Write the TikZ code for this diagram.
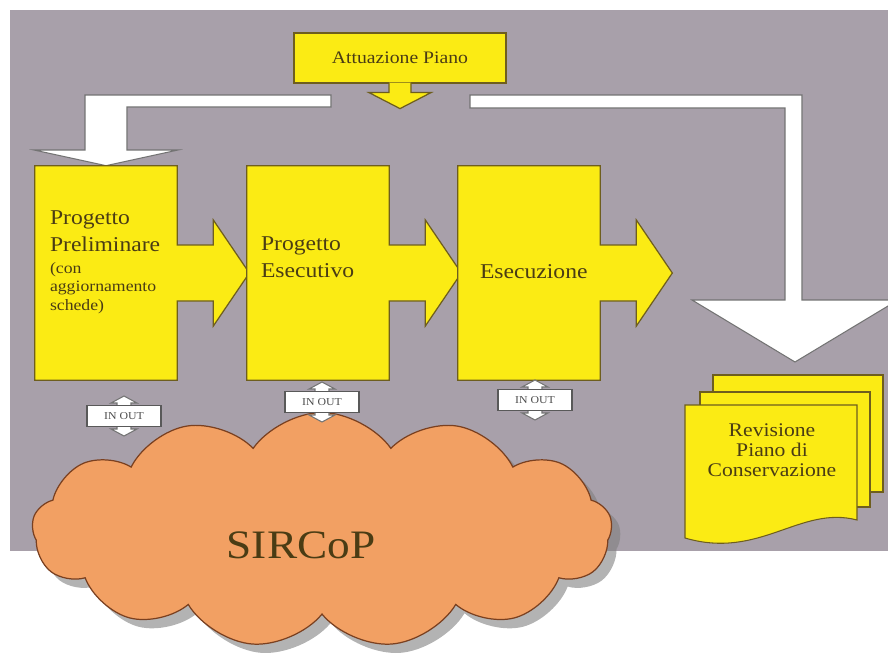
\documentclass[tikz,border=0pt]{standalone}
\usepackage{fontspec}
\setmainfont[FakeStretch=1.12]{Liberation Serif}
\usetikzlibrary{shapes.symbols,shadows,calc,positioning}
\definecolor{bggray}{HTML}{A8A0AA}
\definecolor{boxyellow}{HTML}{FBEB14}
\definecolor{boxline}{HTML}{6E5E1E}
\definecolor{inkbrown}{HTML}{4A3C14}
\definecolor{cloudorange}{HTML}{F2A063}
\definecolor{cloudline}{HTML}{7A4020}

\begin{document}
\begin{tikzpicture}[
                x=0.02cm, y=-0.02cm,
                stage/.style={fill=boxyellow, minimum width=2.84cm, minimum height=4.28cm, inner sep=0pt},
                outline/.style={fill=boxyellow, draw=boxline, line width=0.7pt},
                stagetext/.style={inner sep=0pt, align=left, text=inkbrown, font=\fontsize{12}{15.3}\selectfont},
                smalltext/.style={inner sep=0pt, align=left, text=inkbrown, font=\fontsize{9}{10.8}\selectfont},
                plan/.style={outline, minimum width=4.24cm, minimum height=1cm, text=inkbrown, font=\fontsize{10}{12}\selectfont},
                bigarrow/.style={fill=white, draw=black!55, line width=0.6pt},
                inout/.style={fill=white, draw=black!65, line width=0.6pt, minimum width=1.48cm, minimum height=0.42cm, inner sep=0pt, text=black!70, font=\fontsize{6}{6}\selectfont},
                sheet/.style={fill=boxyellow, draw=boxline, line width=0.6pt},
                database/.style={cloud, cloud puffs=13, cloud puff arc=110, cloud ignores aspect, fill=cloudorange, draw=cloudline, line width=0.7pt, minimum width=11.6cm, minimum height=4.7cm, drop shadow={shadow xshift=5pt, shadow yshift=-5pt, fill=black!50, opacity=0.6}}
                ]
                \useasboundingbox (0,0) rectangle (888,663);
                \fill[bggray] (10,10) rectangle (900,551);
                % plan and the two white flows
                \node[plan] (att) at (400,58) {Attuazione Piano};
                \node[stage] (b1) at (106,273) {};
                \node[stage] (b2) at (318,273) {};
                \node[stage] (b3) at (529,273) {};
                \coordinate (revtip) at (795,362);
                \draw[bigarrow] (331,95) -- (85,95) -- (85,150) -- (34,150) -- (b1.north) -- (178,150) -- (127,150) -- (127,107) -- (331,107) -- cycle;
                \draw[bigarrow] (470,95) -- (802,95) -- (802,300) -- (898,300) -- (revtip) -- (692,300) -- (785,300) -- (785,108) -- (470,108) -- cycle;
                \filldraw[outline] ($(att.south)+(-11,-1)$) -- ++(0,10) -- ++(-20,0) -- ++(31,16) -- ++(31,-16) -- ++(-20,0) -- ++(0,-10);
                % stages with their arrows
                \foreach \s in {b1,b2,b3}
                    \filldraw[outline] (\s.north west) -- (\s.north east) -- ($(\s.east)+(0,-28)$) -- ++(36,0) -- ++(0,-25) -- ++(36,53) -- ++(-36,53) -- ++(0,-25) -- ++(-36,0) -- (\s.south east) -- (\s.south west) -- cycle;
                \node[stagetext, anchor=north west] (t1) at ([shift={(15,45)}]b1.north west) {Progetto\\Preliminare};
                \node[smalltext, anchor=north west] (t1s) at ([shift={(15,96)}]b1.north west) {(con\\aggiornamento\\schede)};
                \node[stagetext, anchor=north west] (t2) at ([shift={(14,71)}]b2.north west) {Progetto\\Esecutivo};
                \node[stagetext, anchor=base west] (t3) at ([shift={(22,5)}]b3.west) {Esecuzione};
                % archive
                \node[database] (db) at (322,530) {};
                \node[text=inkbrown, font=\fontsize{23}{23}\selectfont] (dbname) at (301,545) {SIRCoP};
                \coordinate (c1) at (124,416);
                \coordinate (c2) at (322,402);
                \coordinate (c3) at (535,400);
                \foreach \c in {c1,c2,c3}
                    \draw[bigarrow] ($(\c)+(-7,-13)$) -- ++(-6,0) -- ++(13,-7) -- ++(13,7) -- ++(-6,0) -- ++(0,26) -- ++(6,0) -- ++(-13,7) -- ++(-13,-7) -- ++(6,0) -- cycle;
                \node[inout] (io1) at (c1) {IN OUT};
                \node[inout] (io2) at (c2) {IN OUT};
                \node[inout] (io3) at (c3) {IN OUT};
                % revision sheets
                \filldraw[sheet] (713,375) rectangle (883,492);
                \filldraw[sheet] (700,392) rectangle (870,507);
                \filldraw[sheet] (685,405) -- (857,405) -- (857,520) .. controls (800,505) and (760,560) .. (685,538) -- cycle;
                \node[align=center, text=inkbrown, font=\fontsize{11}{11.5}\selectfont] (rev) at (772,450) {Revisione\\Piano di\\Conservazione};
\end{tikzpicture}
\end{document}
